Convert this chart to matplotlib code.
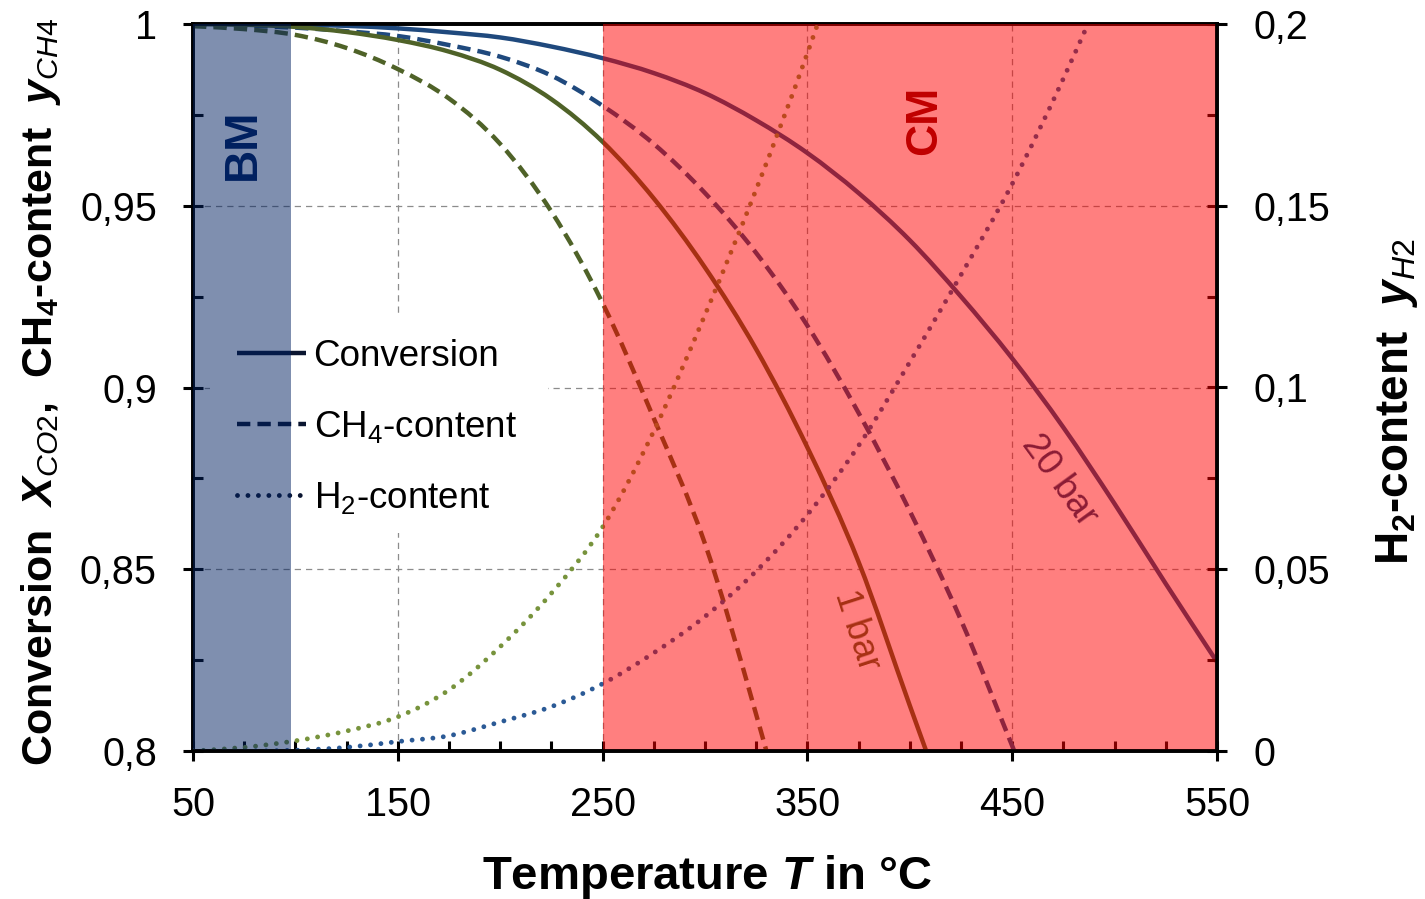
import matplotlib
matplotlib.use('Agg')
import matplotlib.pyplot as plt
from matplotlib.ticker import MultipleLocator, FixedLocator, FuncFormatter
from matplotlib.lines import Line2D
from matplotlib.patches import Rectangle, PathPatch
from matplotlib.path import Path

plt.rcParams['font.family'] = ['Liberation Sans', 'DejaVu Sans']
plt.rcParams['mathtext.fontset'] = 'custom'
plt.rcParams['mathtext.rm'] = 'Liberation Sans'
plt.rcParams['mathtext.it'] = 'Liberation Sans:italic'
plt.rcParams['mathtext.bf'] = 'Liberation Sans:bold'
try:
    plt.rcParams['mathtext.bfit'] = 'Liberation Sans:italic:bold'
    BFIT = r'\mathbfit'
except KeyError:
    BFIT = r'\mathit'

# ---------------- data ----------------
# 1 bar
T_conv_1bar = [50, 75, 100, 125, 150, 175, 200, 225, 250, 275, 300, 325, 350, 375, 400, 408]
conv_1bar = [1.0000, 0.9998, 0.9992, 0.9978, 0.9956, 0.9924, 0.9874, 0.9793, 0.9676,
             0.9520, 0.9330, 0.9105, 0.8835, 0.8520, 0.8125, 0.8000]
T_ch4_1bar = [50, 75, 100, 125, 150, 175, 200, 225, 250, 275, 300, 325, 330]
ch4_1bar = [0.9994, 0.9986, 0.9970, 0.9934, 0.9876, 0.9795, 0.9670, 0.9484, 0.9232,
            0.8915, 0.8570, 0.8100, 0.8000]
T_h2_1bar = [50, 75, 100, 125, 150, 175, 200, 225, 250, 275, 300, 325, 350, 355]
h2_1bar = [0.0000, 0.0010, 0.0028, 0.0055, 0.0094, 0.0168, 0.0287, 0.0434, 0.0616,
           0.0880, 0.1200, 0.1545, 0.1920, 0.2000]
# 20 bar
T_conv_20bar = [50, 75, 100, 125, 150, 175, 200, 225, 250, 275, 300, 325, 350, 375,
                400, 425, 450, 475, 500, 525, 550]
conv_20bar = [1.0000, 1.0000, 0.9998, 0.9995, 0.9988, 0.9977, 0.9963, 0.9938, 0.9906,
              0.9865, 0.9810, 0.9735, 0.9645, 0.9535, 0.9405, 0.9250, 0.9080, 0.8890,
              0.8680, 0.8460, 0.8245]
T_ch4_20bar = [50, 75, 100, 125, 150, 175, 200, 225, 250, 275, 300, 325, 350, 375,
               400, 425, 451]
ch4_20bar = [0.9998, 0.9995, 0.9990, 0.9980, 0.9967, 0.9942, 0.9910, 0.9858, 0.9775,
             0.9670, 0.9535, 0.9370, 0.9170, 0.8930, 0.8660, 0.8360, 0.8000]
T_h2_20bar = [50, 75, 100, 125, 150, 175, 200, 225, 250, 275, 300, 325, 350, 375,
              400, 425, 450, 475, 487]
h2_20bar = [0.0000, 0.0000, 0.0002, 0.0010, 0.0026, 0.0042, 0.0080, 0.0122, 0.0185,
            0.0270, 0.0370, 0.0495, 0.0650, 0.0840, 0.1070, 0.1310, 0.1560, 0.1850, 0.2000]

BM_range = [50, 98]
CM_range = [250, 550]
x_major = [50, 150, 250, 350, 450, 550]
legend_labels = ['Conversion', r'CH$_{4}$-content', r'H$_{2}$-content']

# ---------------- styling ----------------
GREEN = '#4F6228'
GREEN_DOT = '#77933C'
BLUE = '#1F497D'
BLUE_DOT = '#2B5A96'
LW = 3.2
DASH = (0, (3.0, 1.6))
DOT_LW = 3.5
DOT = (0, (0.001, 2.15))


def smooth_path(xs, ys):
    """Smooth (Excel-like) cubic curve through the read points, in data coordinates."""
    n = len(xs)
    m = []
    for i in range(n):
        if i == 0:
            m.append((ys[1] - ys[0]) / (xs[1] - xs[0]))
        elif i == n - 1:
            m.append((ys[-1] - ys[-2]) / (xs[-1] - xs[-2]))
        else:
            h0 = xs[i] - xs[i - 1]
            h1 = xs[i + 1] - xs[i]
            d0 = (ys[i] - ys[i - 1]) / h0
            d1 = (ys[i + 1] - ys[i]) / h1
            m.append((d0 * h1 + d1 * h0) / (h0 + h1))
    verts = [(xs[0], ys[0])]
    codes = [Path.MOVETO]
    for i in range(n - 1):
        h = xs[i + 1] - xs[i]
        verts += [(xs[i] + h / 3, ys[i] + m[i] * h / 3),
                  (xs[i + 1] - h / 3, ys[i + 1] - m[i + 1] * h / 3),
                  (xs[i + 1], ys[i + 1])]
        codes += [Path.CURVE4] * 3
    return Path(verts, codes)


def curve(ax, xs, ys, **kw):
    patch = PathPatch(smooth_path(xs, ys), facecolor='none', **kw)
    ax.add_patch(patch)
    return patch


fig = plt.figure(figsize=(14.25, 8.99), dpi=100)
ax1 = fig.add_axes([193 / 1425, 1 - 751 / 899, 1024 / 1425, 727 / 899])
ax2 = ax1.twinx()

ax1.set_xlim(50, 550)
ax1.set_ylim(0.8, 1.0)
ax2.set_ylim(0.0, 0.2)

ax1.set_axisbelow(True)
ax1.grid(True, which='major', color='#8C8C8C', linestyle=(0, (5, 4)), linewidth=0.9)

# white area behind the legend
ax1.add_patch(Rectangle((0.0166, 0.300), 0.330, 0.297, transform=ax1.transAxes,
                        facecolor='white', edgecolor='none', zorder=1))

curve(ax1, T_conv_20bar, conv_20bar, edgecolor=BLUE, lw=LW, capstyle='butt', zorder=3)
curve(ax1, T_ch4_20bar, ch4_20bar, edgecolor=BLUE, lw=LW, linestyle=DASH, capstyle='butt', zorder=3)
curve(ax1, T_conv_1bar, conv_1bar, edgecolor=GREEN, lw=LW, capstyle='butt', zorder=3)
curve(ax1, T_ch4_1bar, ch4_1bar, edgecolor=GREEN, lw=LW, linestyle=DASH, capstyle='butt', zorder=3)

curve(ax2, T_h2_1bar, h2_1bar, edgecolor=GREEN_DOT, lw=DOT_LW, linestyle=DOT, capstyle='round', zorder=3)
curve(ax2, T_h2_20bar, h2_20bar, edgecolor=BLUE_DOT, lw=DOT_LW, linestyle=DOT, capstyle='round', zorder=3)

# pressure labels (under the red overlay)
ax1.text(374, 0.8333, '1 bar', rotation=-72, rotation_mode='anchor', ha='center', va='center',
         fontsize=26, color=GREEN, zorder=4)
ax1.text(473, 0.8743, '20 bar', rotation=-54, rotation_mode='anchor', ha='center', va='center',
         fontsize=26.5, color='#18386A', zorder=4)

# legend
handles = [Line2D([], [], color='#0A1530', lw=LW, solid_capstyle='butt'),
           Line2D([], [], color='#0A1530', lw=LW, linestyle=DASH, dash_capstyle='butt'),
           Line2D([], [], color='#0A1530', lw=DOT_LW, linestyle=DOT, dash_capstyle='round')]
leg = ax1.legend(handles, legend_labels, loc='center left', bbox_to_anchor=(0.043, 0.445),
                 frameon=False, fontsize=26.5, handlelength=1.87, handletextpad=0.21,
                 labelspacing=0.95, borderpad=0, borderaxespad=0)
leg.set_zorder(5)

# overlays
ax2.axvspan(BM_range[0], BM_range[1], color='#002060', alpha=0.5, lw=0, zorder=10)
ax2.axvspan(CM_range[0], CM_range[1], color='#FF0000', alpha=0.5, lw=0, zorder=10)
ax2.text(74.4, 0.967, 'BM', transform=ax1.transData, rotation=90, ha='center', va='center',
         fontsize=33, fontweight='bold', color='#002060', zorder=11)
ax2.text(407, 0.9736, 'CM', transform=ax1.transData, rotation=90, ha='center', va='center',
         fontsize=32, fontweight='bold', color='#C00000', zorder=11)

# ticks
fmt = FuncFormatter(lambda v, p: ('%g' % round(v, 4)).replace('.', ','))
ax1.xaxis.set_major_locator(FixedLocator(x_major))
ax1.xaxis.set_minor_locator(MultipleLocator(25))
ax1.yaxis.set_major_locator(MultipleLocator(0.05))
ax1.yaxis.set_minor_locator(MultipleLocator(0.025))
ax2.yaxis.set_major_locator(MultipleLocator(0.05))
ax2.yaxis.set_minor_locator(MultipleLocator(0.025))
ax1.yaxis.set_major_formatter(fmt)
ax2.yaxis.set_major_formatter(fmt)

for ax in (ax1, ax2):
    ax.tick_params(which='major', direction='inout', length=14, width=2.2, labelsize=28.5,
                   color='black')
    ax.tick_params(which='minor', direction='in', length=7, width=2.2, color='black')
    for s in ax.spines.values():
        s.set_linewidth(2.6)
        s.set_color('black')
ax1.tick_params(axis='x', which='major', pad=18.5)
ax1.tick_params(axis='y', which='major', pad=19)
ax2.tick_params(axis='y', which='major', pad=19)
ax2.spines['bottom'].set_zorder(20)
ax2.spines['right'].set_zorder(20)

# axis titles
ax1.set_xlabel(r'Temperature $' + BFIT + r'{T}$ in °C', fontsize=34, fontweight='bold')
ax1.xaxis.set_label_coords(0.502, -0.14)
ax1.set_ylabel(r'Conversion  $' + BFIT + r'{X}_{\mathit{CO2}}$,  CH$_{\mathbf{4}}$-content  $'
               + BFIT + r'{y}_{\mathit{CH4}}$', fontsize=31, fontweight='bold')
ax1.yaxis.set_label_coords(-0.127, 0.494)
ax2.set_ylabel(r'H$_{\mathbf{2}}$-content  $' + BFIT + r'{y}_{\mathit{H2}}$', fontsize=33,
               fontweight='bold')
ax2.yaxis.set_label_coords(1.1533, 0.48)

fig.savefig('out.png', dpi=100)
